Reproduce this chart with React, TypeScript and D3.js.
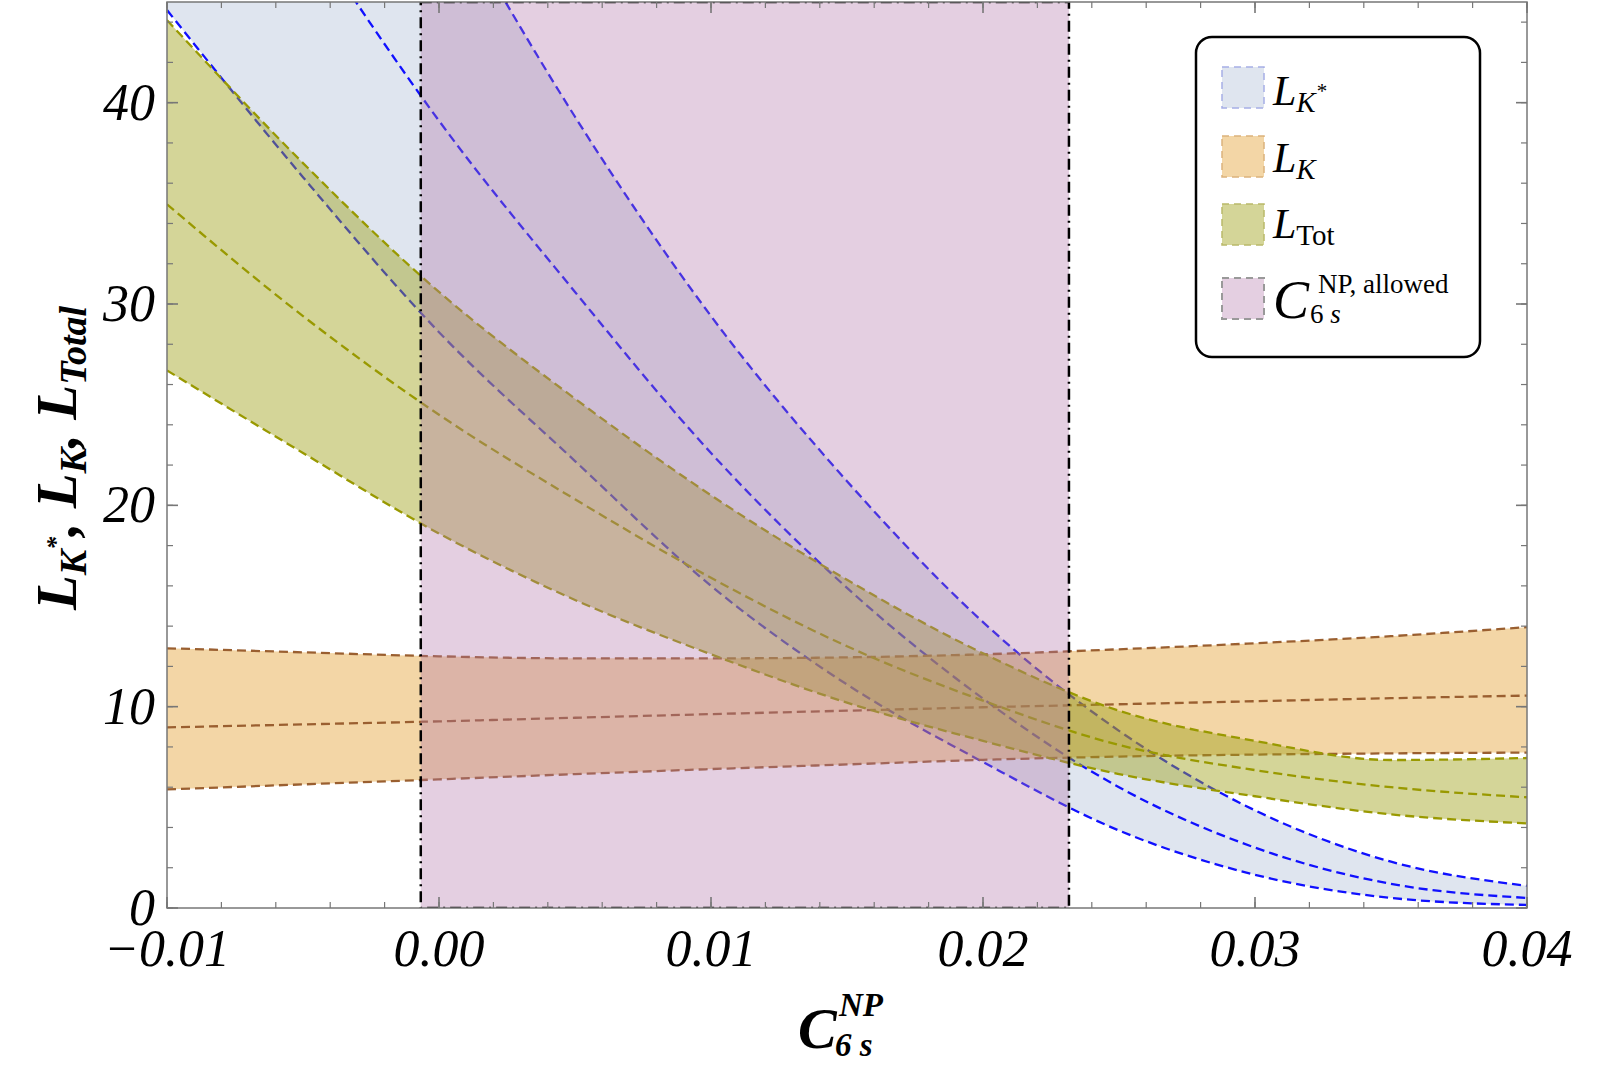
import React from "react";
import * as d3 from "d3";

// C6s^NP values where the bands were read
const cValues = [-0.01, -0.005, 0, 0.005, 0.01, 0.015, 0.02, 0.025, 0.03, 0.035, 0.04];

// L_K* band
const lKstarUpper = [77, 63.5, 50.8, 39.3, 29.4, 21.2, 14.2, 8.8, 4.85, 2.3, 1.1];
const lKstarCentral = [60, 49.0, 39.1, 30.6, 22.6, 15.9, 10.4, 6.0, 3.0, 1.2, 0.5];
const lKstarLower = [44.6, 36.3, 28.6, 22.2, 16.0, 11.1, 7.25, 3.85, 1.65, 0.5, 0.15];

// L_K band
const lKUpper = [12.9, 12.7, 12.5, 12.4, 12.4, 12.45, 12.6, 12.85, 13.15, 13.5, 13.95];
const lKCentral = [8.97, 9.12, 9.27, 9.45, 9.63, 9.8, 9.97, 10.12, 10.27, 10.42, 10.55];
const lKLower = [5.89, 6.14, 6.39, 6.65, 6.9, 7.13, 7.36, 7.52, 7.62, 7.68, 7.72];

// L_Tot band
const lTotUpper = [44.1, 37.0, 30.6, 25.3, 20.5, 16.3, 12.65, 9.8, 8.3, 7.35, 7.45];
const lTotCentral = [34.95, 29.4, 24.5, 20.3, 16.4, 13.0, 10.3, 8.1, 6.85, 6.0, 5.5];
const lTotLower = [26.7, 22.6, 18.6, 15.3, 12.6, 10.2, 8.3, 6.65, 5.55, 4.65, 4.2];

// allowed C6s^NP range
const allowedRange = [-0.00067, 0.02316];

const xTicks = [-0.01, 0, 0.01, 0.02, 0.03, 0.04];
const xTickLabels = ["\u22120.01", "0.00", "0.01", "0.02", "0.03", "0.04"];
const yTicks = [0, 10, 20, 30, 40];
const yTickLabels = ["0", "10", "20", "30", "40"];

const W = 1600;
const H = 1067;
const left = 167;
const right = 1527;
const top = 2;
const bottom = 908;

const serif = "'Liberation Serif', 'Times New Roman', serif";
const frameColor = "#777";

const bands = [
  { upper: lKstarUpper, central: lKstarCentral, lower: lKstarLower, fill: "rgb(164,181,209)", opacity: 0.35, stroke: "#1010ff" },
  { upper: lKUpper, central: lKCentral, lower: lKLower, fill: "rgb(221,138,1)", opacity: 0.35, stroke: "#9a5f30" },
  { upper: lTotUpper, central: lTotCentral, lower: lTotLower, fill: "rgb(159,162,26)", opacity: 0.45, stroke: "#999900" },
];

const App: React.FC = () => {
  const x = d3.scaleLinear().domain([-0.01, 0.04]).range([left, right]);
  const y = d3.scaleLinear().domain([0, 45]).range([bottom, top]);

  const line = (vals: number[]) =>
    d3
      .line<number>()
      .x((_, i) => x(cValues[i]))
      .y(d => y(d))
      .curve(d3.curveMonotoneX)(vals) as string;

  const area = (lo: number[], hi: number[]) =>
    d3
      .area<number>()
      .x((_, i) => x(cValues[i]))
      .y0((_, i) => y(lo[i]))
      .y1(d => y(d))
      .curve(d3.curveMonotoneX)(hi) as string;

  const xMinor = d3.range(-0.01, 0.0401, 0.002);
  const yMinor = d3.range(0, 45, 2);
  const dash = "9,5";
  const dashDot = "11,5,2,5";

  return (
    <svg width={W} height={H} style={{ position: "absolute", left: 0, top: 0 }} fontFamily={serif}>
      <defs>
        <clipPath id="plot">
          <rect x={left} y={top} width={right - left} height={bottom - top} />
        </clipPath>
      </defs>
      <rect width={W} height={H} fill="white" />

      <g clipPath="url(#plot)">
        {bands.map((b, i) => (
          <g key={i}>
            <path d={area(b.lower, b.upper)} fill={b.fill} fillOpacity={b.opacity} />
            {[b.upper, b.central, b.lower].map((v, j) => (
              <path key={j} d={line(v)} fill="none" stroke={b.stroke} strokeWidth={2.3} strokeDasharray={dash} />
            ))}
          </g>
        ))}
        <rect
          x={x(allowedRange[0])}
          y={y(45)}
          width={x(allowedRange[1]) - x(allowedRange[0])}
          height={y(0) - y(45)}
          fill="rgb(178,118,169)"
          fillOpacity={0.35}
        />
        <rect
          x={x(allowedRange[0])}
          y={y(45)}
          width={x(allowedRange[1]) - x(allowedRange[0])}
          height={y(0) - y(45)}
          fill="none"
          stroke="black"
          strokeWidth={2.5}
          strokeDasharray={dashDot}
        />
      </g>

      {/* frame and ticks */}
      <rect x={left} y={top} width={right - left} height={bottom - top} fill="none" stroke={frameColor} strokeWidth={1.5} />
      {xMinor.map((v, i) => (
        <g key={"xm" + i} stroke={frameColor} strokeWidth={1.2}>
          <line x1={x(v)} x2={x(v)} y1={bottom} y2={bottom - 6} />
          <line x1={x(v)} x2={x(v)} y1={top} y2={top + 6} />
        </g>
      ))}
      {xTicks.map((v, i) => (
        <g key={"xt" + i} stroke={frameColor} strokeWidth={1.6}>
          <line x1={x(v)} x2={x(v)} y1={bottom} y2={bottom - 11} />
          <line x1={x(v)} x2={x(v)} y1={top} y2={top + 11} />
        </g>
      ))}
      {yMinor.map((v, i) => (
        <g key={"ym" + i} stroke={frameColor} strokeWidth={1.2}>
          <line x1={left} x2={left + 6} y1={y(v)} y2={y(v)} />
          <line x1={right} x2={right - 6} y1={y(v)} y2={y(v)} />
        </g>
      ))}
      {yTicks.map((v, i) => (
        <g key={"yt" + i} stroke={frameColor} strokeWidth={1.6}>
          <line x1={left} x2={left + 11} y1={y(v)} y2={y(v)} />
          <line x1={right} x2={right - 11} y1={y(v)} y2={y(v)} />
        </g>
      ))}

      {/* tick labels */}
      {xTicks.map((v, i) => (
        <text key={"xl" + i} x={x(v)} y={966} textAnchor="middle" fontSize={52} fontStyle="italic">
          {xTickLabels[i]}
        </text>
      ))}
      {yTicks.map((v, i) => (
        <text key={"yl" + i} x={155} y={y(v)} dy="0.33em" textAnchor="end" fontSize={52} fontStyle="italic">
          {yTickLabels[i]}
        </text>
      ))}

      {/* axis labels */}
      <text
        transform="translate(76,458) rotate(-90)"
        textAnchor="middle"
        fontSize={57}
        fontWeight="bold"
        fontStyle="italic"
      >
        L<tspan fontSize={38} dy={10}>K</tspan>
        <tspan fontSize={26} dy={-22}>*</tspan>
        <tspan dy={12}>, L</tspan>
        <tspan fontSize={38} dy={10}>K</tspan>
        <tspan dy={-10}>, L</tspan>
        <tspan fontSize={38} dy={10}>Total</tspan>
      </text>
      <g fontWeight="bold" fontStyle="italic">
        <text x={798} y={1048} fontSize={58}>C</text>
        <text x={839} y={1016} fontSize={33}>NP</text>
        <text x={835} y={1056} fontSize={33}>6 s</text>
      </g>

      {/* legend */}
      <rect x={1196} y={37} width={284} height={320} rx={16} fill="white" stroke="black" strokeWidth={2.5} />
      <rect x={1222} y={67} width={42} height={41} fill="rgb(223,229,239)" stroke="#a6aee6" strokeWidth={1.5} strokeDasharray="7,5" />
      <rect x={1222} y={136} width={42} height={41} fill="rgb(243,214,166)" stroke="#dcb27c" strokeWidth={1.5} strokeDasharray="7,5" />
      <rect x={1222} y={204} width={42} height={41} fill="rgb(212,213,152)" stroke="#b9b96a" strokeWidth={1.5} strokeDasharray="7,5" />
      <rect x={1222} y={278} width={42} height={41} fill="rgb(228,207,225)" stroke="#999" strokeWidth={2} strokeDasharray="7,5" />

      <text x={1273} y={105} fontSize={42} fontStyle="italic">
        L<tspan fontSize={29} dy={7}>K</tspan>
        <tspan fontSize={21} dy={-14}>*</tspan>
      </text>
      <text x={1273} y={172} fontSize={42} fontStyle="italic">
        L<tspan fontSize={29} dy={7}>K</tspan>
      </text>
      <text x={1273} y={238} fontSize={42} fontStyle="italic">
        L<tspan fontSize={29} dy={7} fontStyle="normal">Tot</tspan>
      </text>
      <text x={1273} y={318} fontSize={54} fontStyle="italic">C</text>
      <text x={1318} y={293} fontSize={27}>NP, allowed</text>
      <text x={1310} y={323} fontSize={27}>
        6<tspan fontStyle="italic"> s</tspan>
      </text>
    </svg>
  );
};

export default App;
